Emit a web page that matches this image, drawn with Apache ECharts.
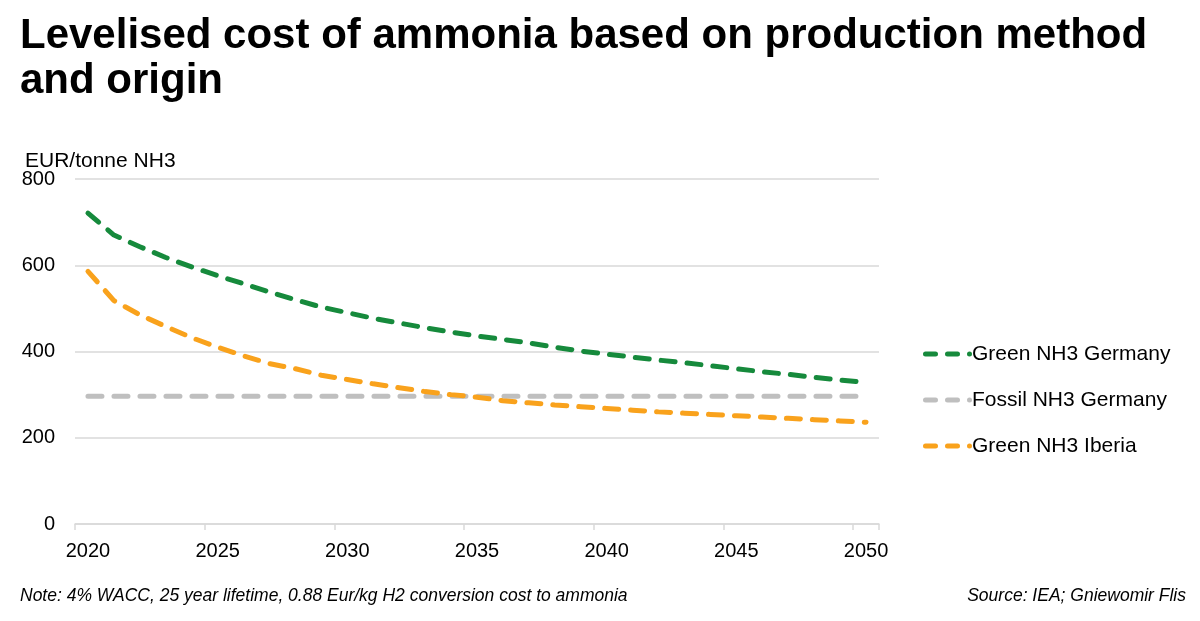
<!DOCTYPE html>
<html>
<head>
<meta charset="utf-8">
<script src="https://cdn.jsdelivr.net/npm/echarts@6/dist/echarts.min.js"></script>
<style>html,body{margin:0;padding:0;background:#fff;}#c{width:1200px;height:621px;}</style>
</head>
<body>
<div id="c"></div>
<script>
const years = ['2020','2021','2022','2023','2024','2025','2026','2027','2028','2029','2030','2031','2032','2033','2034','2035','2036','2037','2038','2039','2040','2041','2042','2043','2044','2045','2046','2047','2048','2049','2050'];
const greenGermany = [721,670,643,618,596,576,557,538,520,503,490,477,466,455,445,436,428,420,410,401,394,387,380,374,367,360,353,347,340,334,328];
const fossilGermany = [296,296,296,296,296,296,296,296,296,296,296,296,296,296,296,296,296,296,296,296,296,296,296,296,296,296,296,296,296,296,296];
const greenIberia = [586,518,485,458,432,410,390,372,360,345,335,325,316,307,300,294,286,281,276,272,268,264,260,257,254,251,248,245,242,239,236];
const seriesNames = ['Green NH3 Germany','Fossil NH3 Germany','Green NH3 Iberia'];
const yTicks = [0,200,400,600,800];

const FONT = 'Liberation Sans, Arial, sans-serif';
const colors = ['#168a3c','#bfbfbf','#f9a21c'];
const legendIcon = 'path://M2.5,0 H12.5 A2.5,2.5 0 0 1 12.5,5 H2.5 A2.5,2.5 0 0 1 2.5,0 Z M24.5,0 H34.5 A2.5,2.5 0 0 1 34.5,5 H24.5 A2.5,2.5 0 0 1 24.5,0 Z M46.5,0 A2.5,2.5 0 0 1 46.5,5 A2.5,2.5 0 0 1 46.5,0 Z';
const chart = echarts.init(document.getElementById('c'));
const mk = (name, data, color) => ({
  name, type: 'line', data, symbol: 'none', smooth: false,
  lineStyle: { color, width: 5, type: [14, 12], cap: 'round' },
  itemStyle: { color }
});
chart.setOption({
  animation: false,
  textStyle: { fontFamily: FONT },
  grid: { left: 75, right: 321, top: 179, bottom: 97, containLabel: false },
  xAxis: {
    type: 'category', data: years, boundaryGap: true,
    axisLine: { lineStyle: { color: '#d9d9d9', width: 1.5 } },
    axisTick: { show: true, interval: 4, length: 6, lineStyle: { color: '#d9d9d9', width: 1.5 } },
    axisLabel: { interval: 4, color: '#000', fontSize: 20, margin: 17, fontFamily: FONT },
    splitLine: { show: false }
  },
  yAxis: {
    type: 'value', min: yTicks[0], max: yTicks[yTicks.length-1], interval: 200,
    axisLine: { show: false }, axisTick: { show: false },
    axisLabel: { color: '#000', fontSize: 20, margin: 20, fontFamily: FONT },
    splitLine: { lineStyle: { color: '#d9d9d9', width: 1.5 } }
  },
  legend: {
    orient: 'vertical', left: 918, top: 337, itemGap: 22, itemWidth: 49, itemHeight: 5,
    icon: legendIcon,
    itemStyle: { borderWidth: 0 },
    textStyle: { color: '#000', fontSize: 21, fontFamily: FONT, padding: [0,0,0,-5], lineHeight: 24 },
    data: seriesNames
  },
  graphic: [
    { type: 'text', left: 20, top: 14, style: { text: 'Levelised cost of ammonia based on production method\nand origin', font: 'bold 42px ' + FONT, fill: '#000', lineHeight: 45 } },
    { type: 'text', left: 25, top: 151, style: { text: 'EUR/tonne NH3', font: '21px ' + FONT, fill: '#000' } },
    { type: 'text', left: 20, top: 587, style: { text: 'Note: 4% WACC, 25 year lifetime, 0.88 Eur/kg H2 conversion cost to ammonia', font: 'italic 17.5px ' + FONT, fill: '#000' } },
    { type: 'text', right: 14, top: 587, style: { text: 'Source: IEA; Gniewomir Flis', font: 'italic 17.5px ' + FONT, fill: '#000' } }
  ],
  series: [
    mk(seriesNames[0], greenGermany, colors[0]),
    mk(seriesNames[1], fossilGermany, colors[1]),
    mk(seriesNames[2], greenIberia, colors[2])
  ]
});
</script>
</body>
</html>
